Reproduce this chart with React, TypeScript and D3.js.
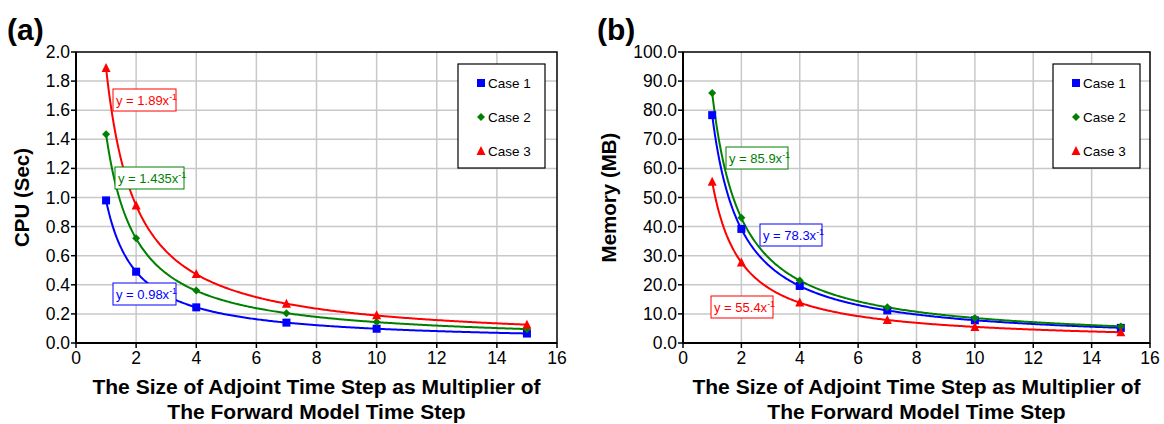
import React from "react";
import * as d3 from "d3";

// Adjoint time step multipliers (x values shared by every series)
const steps = [1, 2, 4, 7, 10, 15];

// Panel (a): CPU time in seconds
const cpuCase1 = [0.98, 0.49, 0.245, 0.14, 0.098, 0.065];
const cpuCase2 = [1.435, 0.72, 0.36, 0.205, 0.145, 0.095];
const cpuCase3 = [1.89, 0.945, 0.475, 0.27, 0.19, 0.125];
const cpuFit = [0.98, 1.435, 1.89];
const cpuFitText = ["0.98", "1.435", "1.89"];

// Panel (b): memory in MB
const memCase1 = [78.3, 39.2, 19.6, 11.2, 7.8, 5.2];
const memCase2 = [85.9, 43.0, 21.5, 12.3, 8.6, 5.7];
const memCase3 = [55.4, 27.7, 13.9, 7.9, 5.5, 3.7];
const memFit = [78.3, 85.9, 55.4];
const memFitText = ["78.3", "85.9", "55.4"];

const caseNames = ["Case 1", "Case 2", "Case 3"];
const xTicks = [0, 2, 4, 6, 8, 10, 12, 14, 16];
const cpuTicks = [0, 0.2, 0.4, 0.6, 0.8, 1.0, 1.2, 1.4, 1.6, 1.8, 2.0];
const memTicks = [0, 10, 20, 30, 40, 50, 60, 70, 80, 90, 100];

const colors = ["#0000ff", "#008000", "#ff0000"];
const FONT = "Arial, 'Liberation Sans', sans-serif";

function Marker({ kind, x, y, color }: { kind: number; x: number; y: number; color: string }) {
  if (kind === 0) return <rect x={x - 4} y={y - 4} width={8} height={8} fill={color} />;
  if (kind === 1)
    return <path d={`M${x},${y - 4}L${x + 4},${y}L${x},${y + 4}L${x - 4},${y}Z`} fill={color} />;
  return <path d={`M${x},${y - 5}L${x + 4.5},${y + 4}L${x - 4.5},${y + 4}Z`} fill={color} />;
}

function EqLabel({ x, y, w, color, coef }: { x: number; y: number; w: number; color: string; coef: string }) {
  return (
    <g>
      <rect x={x} y={y} width={w} height={22} fill="#fff" stroke={color} strokeWidth={1} />
      <text x={x + 3} y={y + 16} fill={color} fontSize={13} fontFamily={FONT}>
        {`y = ${coef}x`}
        <tspan dy={-5} fontSize={9}>-1</tspan>
      </text>
    </g>
  );
}

type PanelProps = {
  tag: string;
  tagX: number;
  left: number;
  right: number;
  yMax: number;
  yTicks: number[];
  yFmt: (v: number) => string;
  yTitle: string;
  yTitleX: number;
  series: number[][];
  fits: number[];
  fitText: string[];
  labels: { x: number; y: number; w: number; idx: number }[];
  legendX: number;
};

function Panel(p: PanelProps) {
  const top = 52;
  const bottom = 343;
  const x = d3.scaleLinear().domain([0, 16]).range([p.left, p.right]);
  const y = d3.scaleLinear().domain([0, p.yMax]).range([bottom, top]);
  // sample positions along each y = a / x trendline
  const xs = d3.range(1, 15.001, 0.05);

  return (
    <g fontFamily={FONT}>
      <text x={p.tagX} y={40} fontSize={30} fontWeight="bold">{p.tag}</text>
      {/* grid */}
      {xTicks.slice(1, -1).map((t) => (
        <line key={"gx" + t} x1={x(t)} x2={x(t)} y1={top} y2={bottom} stroke="#c8c8c8" strokeWidth={1.5} />
      ))}
      {p.yTicks.slice(1, -1).map((t) => (
        <line key={"gy" + t} x1={p.left} x2={p.right} y1={y(t)} y2={y(t)} stroke="#c8c8c8" strokeWidth={1.5} />
      ))}
      <rect x={p.left} y={top} width={p.right - p.left} height={bottom - top} fill="none" stroke="#000" strokeWidth={1.5} />
      {/* axes */}
      <line x1={p.left} x2={p.right} y1={bottom} y2={bottom} stroke="#000" strokeWidth={2} />
      <line x1={p.left} x2={p.left} y1={top} y2={bottom} stroke="#000" strokeWidth={2} />
      {xTicks.map((t) => (
        <g key={"xt" + t}>
          <line x1={x(t)} x2={x(t)} y1={bottom} y2={bottom + 5} stroke="#000" strokeWidth={1.5} />
          <text x={x(t)} y={bottom + 21} textAnchor="middle" fontSize={17.5}>{t}</text>
        </g>
      ))}
      {p.yTicks.map((t) => (
        <g key={"yt" + t}>
          <line x1={p.left - 5} x2={p.left} y1={y(t)} y2={y(t)} stroke="#000" strokeWidth={1.5} />
          <text x={p.left - 6} y={y(t) + 6} textAnchor="end" fontSize={17.5}>{p.yFmt(t)}</text>
        </g>
      ))}
      <text x={(p.left + p.right) / 2} y={394} textAnchor="middle" fontSize={21} fontWeight="bold">
        The Size of Adjoint Time Step as Multiplier of
      </text>
      <text x={(p.left + p.right) / 2} y={419} textAnchor="middle" fontSize={21} fontWeight="bold">
        The Forward Model Time Step
      </text>
      <text
        transform={`translate(${p.yTitleX},${(top + bottom) / 2}) rotate(-90)`}
        textAnchor="middle"
        fontSize={20.5}
        fontWeight="bold"
      >
        {p.yTitle}
      </text>
      {/* power-law trendlines */}
      {p.fits.map((a, i) => {
        const line = d3
          .line<number>()
          .x((v) => x(v))
          .y((v) => y(a / v));
        return <path key={"fit" + i} d={line(xs) ?? ""} fill="none" stroke={colors[i]} strokeWidth={2} />;
      })}
      {p.series.map((s, i) =>
        s.map((v, j) => <Marker key={`m${i}-${j}`} kind={i} x={x(steps[j])} y={y(v)} color={colors[i]} />)
      )}
      {p.labels.map((l) => (
        <EqLabel key={"eq" + l.idx} x={l.x} y={l.y} w={l.w} color={colors[l.idx]} coef={p.fitText[l.idx]} />
      ))}
      {/* legend */}
      <rect x={p.legendX} y={64} width={87} height={104} fill="#fff" stroke="#000" strokeWidth={1.2} />
      {caseNames.map((n, i) => (
        <g key={n}>
          <Marker kind={i} x={p.legendX + 23} y={83 + i * 34} color={colors[i]} />
          <text x={p.legendX + 30} y={88 + i * 34} fontSize={13.5}>{n}</text>
        </g>
      ))}
    </g>
  );
}

export default function App() {
  return (
    <svg width={1164} height={424} style={{ position: "absolute", left: 0, top: 0, background: "#fff" }}>
      <Panel
        tag="(a)"
        tagX={7}
        left={76}
        right={557}
        yMax={2}
        yTicks={cpuTicks}
        yFmt={(v) => v.toFixed(1)}
        yTitle="CPU (Sec)"
        yTitleX={29}
        series={[cpuCase1, cpuCase2, cpuCase3]}
        fits={cpuFit}
        fitText={cpuFitText}
        labels={[
          { x: 113, y: 89, w: 63, idx: 2 },
          { x: 115, y: 167, w: 69, idx: 1 },
          { x: 113, y: 283, w: 63, idx: 0 },
        ]}
        legendX={458}
      />
      <Panel
        tag="(b)"
        tagX={597}
        left={683}
        right={1150}
        yMax={100}
        yTicks={memTicks}
        yFmt={(v) => v.toFixed(1)}
        yTitle="Memory (MB)"
        yTitleX={616}
        series={[memCase1, memCase2, memCase3]}
        fits={memFit}
        fitText={memFitText}
        labels={[
          { x: 760, y: 224, w: 62, idx: 0 },
          { x: 726, y: 147, w: 62, idx: 1 },
          { x: 711, y: 296, w: 62, idx: 2 },
        ]}
        legendX={1053}
      />
    </svg>
  );
}
